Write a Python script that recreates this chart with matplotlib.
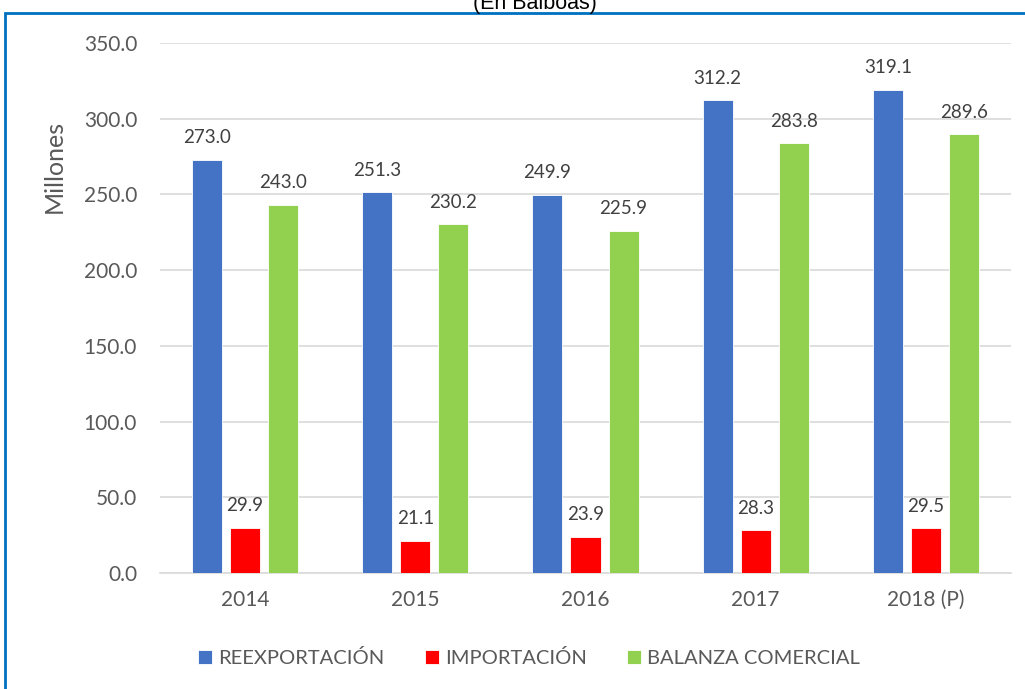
import numpy as np
import matplotlib.pyplot as plt
from matplotlib.patches import Rectangle

# --- data ---
years = ["2014", "2015", "2016", "2017", "2018 (P)"]
reexportacion = [273.0, 251.3, 249.9, 312.2, 319.1]
importacion = [29.9, 21.1, 23.9, 28.3, 29.5]
balanza = [243.0, 230.2, 225.9, 283.8, 289.6]
series_names = ["REEXPORTACIÓN", "IMPORTACIÓN", "BALANZA COMERCIAL"]
y_ticks = [0, 50, 100, 150, 200, 250, 300, 350]

colors = ["#4472C4", "#FF0000", "#92D050"]
FONT = "Lato"
W, H = 1025, 689

fig = plt.figure(figsize=(W / 100, H / 100), dpi=100)
ax = fig.add_axes([160 / W, 1 - 573 / H, (1011 - 160) / W, (573 - 43) / H])

x = np.arange(len(years))
width = 30 / 170
step = 38 / 170

for i, (vals, name, col) in enumerate(zip([reexportacion, importacion, balanza], series_names, colors)):
    pos = x + (i - 1) * step
    bars = ax.bar(pos, vals, width, color=col, label=name, zorder=3,
                  edgecolor="white", linewidth=0.6)
    for b, v in zip(bars, vals):
        ax.text(b.get_x() + b.get_width() / 2, v + 9, f"{v:.1f}",
                ha="center", va="bottom", fontsize=13.5, color="#404040",
                family=FONT, zorder=4)

ax.set_xlim(-0.5, len(years) - 0.5)
ax.set_ylim(0, 350)
ax.set_yticks(y_ticks)
ax.set_yticklabels([f"{t:.1f}" for t in y_ticks], family=FONT, fontsize=15, color="#595959")
ax.set_xticks(x)
ax.set_xticklabels(years, family=FONT, fontsize=15, color="#595959")
ax.tick_params(axis="both", length=0)
ax.tick_params(axis="y", pad=16.5)
ax.tick_params(axis="x", pad=12)
ax.grid(axis="y", color="#D9D9D9", linewidth=1.2, zorder=0)
for s in ["top", "right", "left"]:
    ax.spines[s].set_visible(False)
ax.spines["bottom"].set_color("#D9D9D9")
ax.spines["bottom"].set_linewidth(1.2)

fig.text(54 / W, 1 - 166 / H, "Millones", rotation=90, ha="center", va="center",
         family=FONT, fontsize=18, color="#595959")

leg = fig.legend(loc="center", bbox_to_anchor=(529 / W, 1 - 658 / H), ncol=3,
                 frameon=False, handlelength=0.7, handleheight=0.7,
                 handletextpad=0.3, columnspacing=2.0,
                 prop={"family": FONT, "size": 14.5})
for t in leg.get_texts():
    t.set_color("#595959")

# outer frame (partially out of the image) and cut-off subtitle
fig.patches.append(Rectangle((5 / W, -0.1), 1.2, 1 - 13 / H + 0.1, transform=fig.transFigure,
                             fill=False, edgecolor="#0070C0", linewidth=2, zorder=0))
fig.text(535 / W, 1 - 3 / H, "(En Balboas)", ha="center", va="center",
         family="Liberation Sans", fontsize=15.5, color="black")

fig.savefig("out.png", dpi=100, facecolor="white")
